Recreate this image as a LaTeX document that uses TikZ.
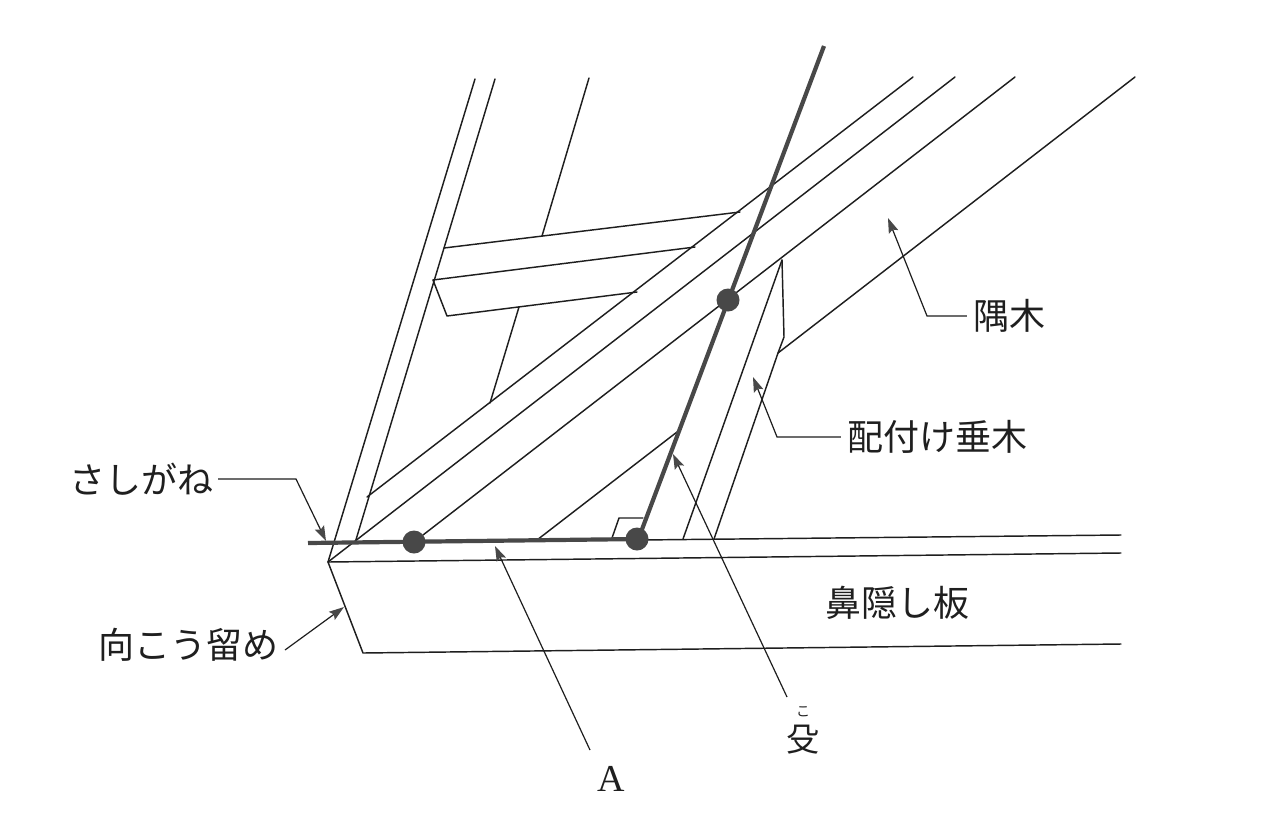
\documentclass[tikz,border=0pt]{standalone}
\usepackage{fontspec}
\setmainfont{Liberation Serif}
\newfontfamily\jp{Noto Sans CJK JP}
\usetikzlibrary{arrows.meta}
\definecolor{ink}{HTML}{1E1E1E}
\definecolor{mid}{HTML}{484848}
\tikzset{
  x=1pt,y=-1pt,
  edge/.style={draw=ink,line width=1.45pt,line cap=round,line join=round},
  ruler/.style={draw=mid,line width=4.2pt,line cap=butt},
  pin/.style={fill=mid,draw=none,circle,minimum size=23pt,inner sep=0pt},
  leader/.style={draw=ink,line width=1.2pt,line join=miter,-{Stealth[length=15pt,width=10pt,inset=2.5pt,color=mid]}},
  lab/.style={font=\jp\fontsize{36}{36}\selectfont,text=black!88,inner sep=0pt},
}
\begin{document}
\begin{tikzpicture}
\useasboundingbox[fill=white] (0,0) rectangle (1280,828);
% fascia
\draw[edge] (1121,535) -- (640,540);
\draw[edge] (1121,553) -- (328,562) -- (363,653) -- (1121,644);
% left rafter
\draw[edge] (475,79) -- (328,562);
\draw[edge] (495,79) -- (355,543);
% back rafter
\draw[edge] (589,78) -- (542,236);
\draw[edge] (519,307) -- (490,403);
% purlin
\draw[edge] (444,248) -- (740,212);
\draw[edge] (433,280) -- (695,247);
\draw[edge] (433,280) -- (447,316) -- (637,292);
% hip lines
\draw[edge] (913,77) -- (367,497);
\draw[edge] (955,77) -- (328,562);
\draw[edge] (1015,77) -- (423,535);
\draw[edge] (1135,77) -- (778,353);
\draw[edge] (677,432) -- (537,540);
% jack rafter
\draw[edge] (782,260) -- (683,539);
\draw[edge] (782,260) -- (784,337) -- (778,353) -- (714,539);
% right-angle mark
\draw[edge] (612,538) -- (619,518) -- (643,518);
% square
\draw[ruler] (308,543) -- (640,539);
\draw[ruler] (638,540) -- (824,46);
\node[pin] (p1) at (414,542) {};
\node[pin] (p2) at (637,539) {};
\node[pin] (p3) at (728,300) {};
% labels
\node[lab,anchor=east] (sashigane) at (214,479) {さしがね};
\node[lab,anchor=east] (mukou) at (279,645) {向こう留め};
\node[lab] (hana) at (897,603) {鼻隠し板};
\node[lab] (haitsuke) at (937,437) {配付け垂木};
\node[lab] (sumi) at (1009,316) {隅木};
\node[lab,font=\fontsize{38}{38}\selectfont] (a) at (611,779) {A};
\node[lab,font=\jp\fontsize{33}{33}\selectfont] (ko) at (803,740) {殳};
\node[lab,font=\jp\fontsize{14}{14}\selectfont] (ruby) at (803,712) {こ};
% leader targets
\coordinate (tSashi) at (326,541);
\coordinate (tMukou) at (344,607);
\coordinate (tA) at (495,546);
\coordinate (tKo) at (673,454);
\coordinate (tHai) at (753,377);
\coordinate (tSumi) at (888,218);
\draw[leader] (sashigane.east) ++(4,0) -- (296,479) -- (tSashi);
\draw[leader] (mukou.east) ++(6,5) -- (tMukou);
\draw[leader] (590,750) -- (tA);
\draw[leader] (787,697) -- (tKo);
\draw[leader] (haitsuke.west) ++(-6,0) -- (777,437) -- (tHai);
\draw[leader] (sumi.west) ++(-6,0) -- (927,316) -- (tSumi);
\end{tikzpicture}
\end{document}
